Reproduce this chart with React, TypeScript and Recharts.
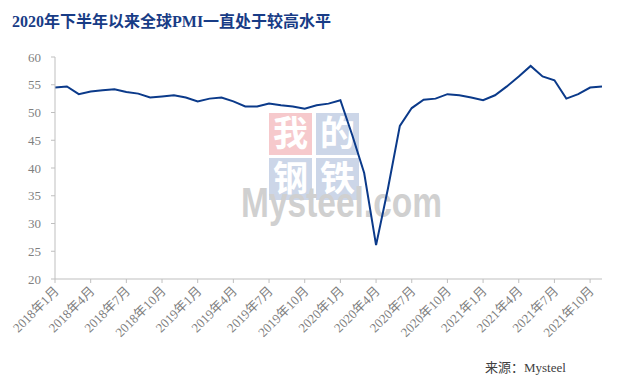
import React from "react";
import { LineChart, Line, XAxis, YAxis } from "recharts";

const months: string[] = [
  "2018年1月", "2018年2月", "2018年3月", "2018年4月", "2018年5月", "2018年6月",
  "2018年7月", "2018年8月", "2018年9月", "2018年10月", "2018年11月", "2018年12月",
  "2019年1月", "2019年2月", "2019年3月", "2019年4月", "2019年5月", "2019年6月",
  "2019年7月", "2019年8月", "2019年9月", "2019年10月", "2019年11月", "2019年12月",
  "2020年1月", "2020年2月", "2020年3月", "2020年4月", "2020年5月", "2020年6月",
  "2020年7月", "2020年8月", "2020年9月", "2020年10月", "2020年11月", "2020年12月",
  "2021年1月", "2021年2月", "2021年3月", "2021年4月", "2021年5月", "2021年6月",
  "2021年7月", "2021年8月", "2021年9月", "2021年10月", "2021年11月",
];

const pmi: number[] = [
  54.5, 54.7, 53.3, 53.8, 54.0, 54.2, 53.7, 53.4, 52.7, 52.9, 53.1, 52.7,
  52.0, 52.5, 52.7, 52.0, 51.1, 51.1, 51.6, 51.3, 51.1, 50.7, 51.3, 51.6,
  52.2, 45.9, 39.1, 26.1, 36.3, 47.6, 50.8, 52.3, 52.5, 53.3, 53.1, 52.7,
  52.2, 53.1, 54.7, 56.5, 58.4, 56.5, 55.8, 52.5, 53.3, 54.5, 54.7,
];

const yTicks: number[] = [20, 25, 30, 35, 40, 45, 50, 55, 60];

const title = "2020年下半年以来全球PMI一直处于较高水平";
const source = "来源：Mysteel";

const data = months.map((m, i) => ({ month: m, pmi: pmi[i] }));

const serif = "'Times New Roman', 'Liberation Serif', 'Noto Sans CJK SC', serif";

const XTick = (props: any) => {
  const { x, y, payload } = props;
  return (
    <g transform={`translate(${x - 1},${y + 4})`}>
      <text
        x={0}
        y={0}
        dy={6}
        dx={2}
        textAnchor="end"
        transform="rotate(-45)"
        fill="#7f7f7f"
        fontSize={13}
        fontFamily={serif}
      >
        {payload.value}
      </text>
    </g>
  );
};

export default function App() {
  return (
    <div
      style={{
        position: "absolute",
        left: 0,
        top: 0,
        width: 633,
        height: 380,
        background: "#ffffff",
        overflow: "hidden",
      }}
    >
      <div
        style={{
          position: "absolute",
          left: 12,
          top: 8,
          fontFamily: serif,
          fontWeight: "bold",
          fontSize: 16,
          color: "#183c86",
          whiteSpace: "nowrap",
        }}
      >
        {title}
      </div>
      {/* watermark */}
      <div style={{ position: "absolute", left: 0, top: 0, width: 633, height: 380 }}>
        <svg width={633} height={380}>
          <rect x={269} y={113} width={43} height={42} fill="#f6c9cc" />
          <rect x={316} y={113} width={43} height={42} fill="#ccd6e8" />
          <rect x={269} y={158} width={43} height={42} fill="#ccd6e8" />
          <rect x={316} y={158} width={43} height={42} fill="#ccd6e8" />
          <g fill="#ffffff" fontSize={35} fontFamily="'Noto Sans CJK SC', sans-serif" fontWeight="bold" textAnchor="middle">
            <text x={290.5} y={146}>我</text>
            <text x={337.5} y={146}>的</text>
            <text x={290.5} y={191}>钢</text>
            <text x={337.5} y={191}>铁</text>
          </g>
          <text
            x={241}
            y={217}
            fontSize={42}
            fontWeight="bold"
            fontFamily="'Liberation Sans', Arial, sans-serif"
            fill="#d0d0d0"
            textLength={201}
            lengthAdjust="spacingAndGlyphs"
          >
            Mysteel.com
          </text>
        </svg>
      </div>
      <div style={{ position: "absolute", left: 0, top: 0 }}>
        <LineChart
          width={633}
          height={380}
          data={data}
          margin={{ top: 57, right: 31, bottom: 31, left: 10 }}
        >
          <XAxis
            dataKey="month"
            interval={2}
            axisLine={{ stroke: "#bfbfbf" }}
            tickLine={{ stroke: "#bfbfbf" }}
            tickSize={4}
            height={70}
            tick={<XTick />}
          />
          <YAxis
            domain={[20, 60]}
            ticks={yTicks}
            interval={0}
            width={45}
            axisLine={{ stroke: "#bfbfbf" }}
            tickLine={{ stroke: "#bfbfbf" }}
            tickSize={4}
            tickMargin={10}
            tick={{ fill: "#7f7f7f", fontSize: 13, fontFamily: serif }}
          />
          <Line
            type="linear"
            dataKey="pmi"
            stroke="#0b3a8a"
            strokeWidth={2}
            dot={false}
            isAnimationActive={false}
          />
        </LineChart>
      </div>
      <div
        style={{
          position: "absolute",
          left: 485,
          top: 357,
          fontFamily: serif,
          fontSize: 13,
          color: "#404040",
          whiteSpace: "nowrap",
        }}
      >
        {source}
      </div>
    </div>
  );
}
